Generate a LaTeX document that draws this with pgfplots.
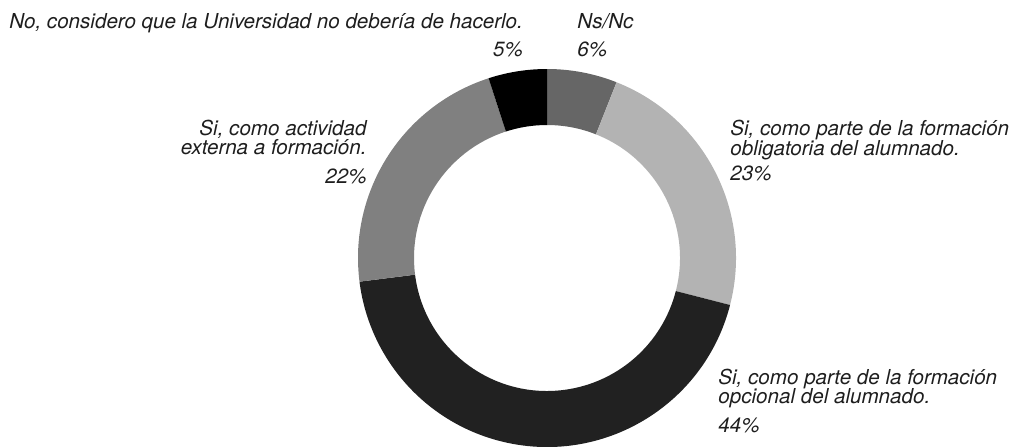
\documentclass[border=0pt]{standalone}
\usepackage{fontspec}
\setmainfont{texgyreheros}[Extension=.otf, UprightFont=*-regular, ItalicFont=*-italic, BoldFont=*-bold, BoldItalicFont=*-bolditalic]
\usepackage{pgfplots}
\usepackage{pgfplotstable}
\pgfplotsset{compat=1.18}
\definecolor{txt}{HTML}{1E1E1E}
\definecolor{s1}{HTML}{666666}
\definecolor{s2}{HTML}{B3B3B3}
\definecolor{s3}{HTML}{212121}
\definecolor{s4}{HTML}{808080}
\definecolor{s5}{HTML}{000000}
\tikzset{lab/.style={font=\fontsize{10.3}{12}\selectfont\itshape, text=txt, inner sep=0pt}}

% share of answers, clockwise from 12 o'clock
\pgfplotstableread{
value shade
6  s1
23 s2
44 s3
22 s4
5  s5
}\donut

\begin{document}
\begin{tikzpicture}
\begin{axis}[
    x=0.5pt, y=0.5pt,
    xmin=0, xmax=1018, ymin=0, ymax=446,
    hide axis,
    clip=true,
]
\path (axis cs:0,0) rectangle (axis cs:1018,446);
\pgfplotsextra{
  \def\cx{547}\def\cy{188}\def\Rout{189}\def\Rin{133}
  \gdef\cum{0}
  \pgfplotstablegetrowsof{\donut}
  \pgfmathtruncatemacro\last{\pgfplotsretval-1}
  \foreach \i in {0,...,\last}{
    \pgfplotstablegetelem{\i}{value}\of{\donut}\let\v=\pgfplotsretval
    \pgfplotstablegetelem{\i}{shade}\of{\donut}\let\sh=\pgfplotsretval
    \pgfmathsetmacro\aa{90-3.6*\cum}
    \pgfmathsetmacro\ab{90-3.6*(\cum+\v)}
    \fill[\sh] (axis cs:{\cx+\Rout*cos(\aa)},{\cy+\Rout*sin(\aa)})
      arc[start angle=\aa, end angle=\ab, radius=\Rout*0.5pt]
      -- (axis cs:{\cx+\Rin*cos(\ab)},{\cy+\Rin*sin(\ab)})
      arc[start angle=\ab, end angle=\aa, radius=\Rin*0.5pt] -- cycle;
    \pgfmathsetmacro\c{\cum+\v}\xdef\cum{\c}
  }
}
% labels (y measured from the top of the picture)
\node[lab, anchor=base west] (nolab) at (axis cs:9,{446-28}) {No, considero que la Universidad no debería de hacerlo.};
\node[lab, anchor=base east, yshift=-14pt] at (nolab.base east) {5\%};
\node[lab, anchor=base west] at (axis cs:577,{446-28}) {Ns/Nc};
\node[lab, anchor=base west] at (axis cs:577,{446-56}) {6\%};
\node[lab, anchor=base east] at (axis cs:367,{446-135}) {Si, como actividad};
\node[lab, anchor=base east] at (axis cs:367,{446-154}) {externa a formación.};
\node[lab, anchor=base east] at (axis cs:367,{446-183}) {22\%};
\node[lab, anchor=base west] at (axis cs:730,{446-135}) {Si, como parte de la formación};
\node[lab, anchor=base west] at (axis cs:730,{446-155}) {obligatoria del alumnado.};
\node[lab, anchor=base west] at (axis cs:730,{446-180}) {23\%};
\node[lab, anchor=base west] at (axis cs:718,{446-384}) {Si, como parte de la formación};
\node[lab, anchor=base west] at (axis cs:718,{446-403}) {opcional del alumnado.};
\node[lab, anchor=base west] at (axis cs:718,{446-432}) {44\%};
\end{axis}
\end{tikzpicture}
\end{document}
